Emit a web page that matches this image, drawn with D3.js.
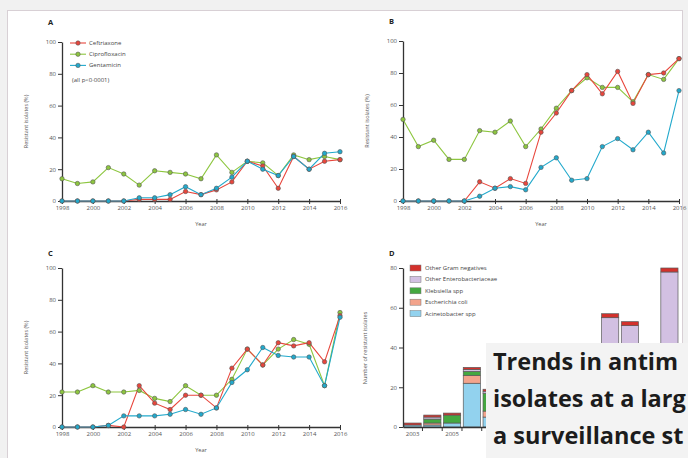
<!DOCTYPE html>
<html><head><meta charset="utf-8">
<script src="https://cdn.jsdelivr.net/npm/d3@7"></script>
<style>
html,body{margin:0;padding:0;background:#f1f1f1;overflow:hidden}
svg{display:block;overflow:hidden}
text{font-family:"Open Sans","DejaVu Sans",sans-serif}
</style></head><body>
<svg id="c" width="688" height="458"></svg>
<script>
// ---------- data ----------
const years = [1998,1999,2000,2001,2002,2003,2004,2005,2006,2007,2008,2009,2010,2011,2012,2013,2014,2015,2016];
const yearTicks = [1998,2000,2002,2004,2006,2008,2010,2012,2014,2016];
const pctTicks = [0,20,40,60,80,100];

// Panel A
const ceftriaxoneA   = [0,0,0,0,0,1,1,1,6,4,7,12,25,22,8,28,20,25,26];
const ciprofloxacinA = [14,11,12,21,17,10,19,18,17,14,29,18,25,24,16,29,26,28,26];
const gentamicinA    = [0,0,0,0,0,2,2,4,9,4,8,15,25,20,16,28,20,30,31];
// Panel B
const ceftriaxoneB   = [0,0,0,0,0,12,8,14,11,43,55,69,79,67,81,61,79,80,89];
const ciprofloxacinB = [51,34,38,26,26,44,43,50,34,45,58,69,77,71,71,62,79,76,89];
const gentamicinB    = [0,0,0,0,0,3,8,9,7,21,27,13,14,34,39,32,43,30,69];
// Panel C
const ceftriaxoneC   = [0,0,0,1,0,26,15,11,20,20,12,37,49,39,53,51,53,41,70];
const ciprofloxacinC = [22,22,26,22,22,23,18,16,26,20,20,30,49,39,49,55,52,26,72];
const gentamicinC    = [0,0,0,1,7,7,7,8,11,8,12,28,36,50,45,44,44,26,69];

const drugNames = ["Ceftriaxone","Ciprofloxacin","Gentamicin"];

// Panel D
const barYears = [2003,2004,2005,2006,2007,2008,2009,2010,2011,2012,2013,2014,2015,2016];
const barYearLabels = [2003,2005];   // later labels lie under the title box
const countTicks = [0,20,40,60,80];
const acinetobacter   = [1,1,2,22,5,4,3,2,2,1,0,0,1,0];
const escherichiaColi = [0,1,0,4,3,2,2,1,1,1,0,0,1,0];
const klebsiella      = [0,2,4,2,9,8,6,5,4,3,1,1,2,0];
const otherEntero     = [0,1,0,1,1,3,5,12,20,30,54,50,30,78];
const otherGramNeg    = [1,1,1,1,1,1,1,1,1,1,2,2,1,2];
const organismNames = ["Other Gram negatives","Other Enterobacteriaceae","Klebsiella spp","Escherichia coli","Acinetobacter spp"];

const titleLines = ["Trends in antim","isolates at a larg","a surveillance st"];

// ---------- styles ----------
const col = {Ceftriaxone:"#e8463c", Ciprofloxacin:"#8dc63f", Gentamicin:"#22a9cc"};
const orgCol = {"Other Gram negatives":"#d3312c","Other Enterobacteriaceae":"#d2c0e2",
  "Klebsiella spp":"#44a840","Escherichia coli":"#f3a48c","Acinetobacter spp":"#92d2ee"};
const axisCol = "#333", tickTxt = "#555", fs = 6;

const svg = d3.select("#c");
// card
svg.append("rect").attr("x",0).attr("y",0).attr("width",688).attr("height",458).attr("fill","#f1f1f1");
svg.append("rect").attr("x",7.5).attr("y",10.5).attr("width",675).attr("height",460)
  .attr("fill","#fff").attr("stroke","#d8d0d5").attr("stroke-width",1);

function styleAxis(g){
  g.select(".domain").attr("stroke",axisCol).attr("stroke-width",1.3);
  g.selectAll(".tick line").attr("stroke",axisCol).attr("stroke-width",1);
  g.selectAll(".tick text").attr("fill",tickTxt).attr("font-size",fs).style("font-family","'Open Sans',sans-serif");
}

function linePanel(p){
  const x = d3.scaleLinear().domain([1998,2016]).range([p.x0,p.x1]);
  const y = d3.scaleLinear().domain([0,100]).range([p.yb,p.yt]);
  const g = svg.append("g");
  const gy = g.append("g").attr("transform",`translate(${p.x0},0)`)
    .call(d3.axisLeft(y).tickValues(pctTicks).tickSize(4).tickPadding(2).tickSizeOuter(0));
  styleAxis(gy);
  const gx = g.append("g").attr("transform",`translate(0,${p.yb})`)
    .call(d3.axisBottom(x).tickValues(yearTicks).tickFormat(d3.format("d")).tickSize(3).tickPadding(2).tickSizeOuter(0));
  styleAxis(gx);
  gx.selectAll(".tick line").attr("y1",-2);
  // labels
  g.append("text").attr("x",p.lx).attr("y",p.ly).text(p.label).attr("font-size",7.5).attr("font-weight",700).attr("fill","#222");
  g.append("text").attr("x",(p.x0+p.x1)/2).attr("y",p.yb+25).attr("text-anchor","middle").attr("font-size",fs-0.5).attr("fill","#555").text("Year");
  g.append("text").attr("transform",`translate(${p.x0-34},${(p.yb+p.yt)/2}) rotate(-90)`)
    .attr("text-anchor","middle").attr("font-size",fs-0.5).attr("fill","#555").text("Resistant isolates (%)");
  const line = d3.line().x((d,i)=>x(years[i])).y(d=>y(d));
  const order = [[ "Ciprofloxacin", p.cip ], [ "Ceftriaxone", p.cef ], [ "Gentamicin", p.gen ]];
  order.forEach(([name,vals])=>{
    g.append("path").datum(vals).attr("d",line).attr("fill","none").attr("stroke",col[name]).attr("stroke-width",1.1);
  });
  order.forEach(([name,vals])=>{
    g.selectAll(null).data(vals).enter().append("circle")
      .attr("cx",(d,i)=>x(years[i])).attr("cy",d=>y(d)).attr("r",2.2)
      .attr("fill",col[name]).attr("stroke","#555").attr("stroke-width",0.6);
  });
  return g;
}

linePanel({x0:62,x1:340,yb:201,yt:42,label:"A",lx:48,ly:25,cef:ceftriaxoneA,cip:ciprofloxacinA,gen:gentamicinA});
linePanel({x0:403,x1:679,yb:201,yt:41,label:"B",lx:389,ly:24,cef:ceftriaxoneB,cip:ciprofloxacinB,gen:gentamicinB});
linePanel({x0:62,x1:340,yb:427,yt:268,label:"C",lx:48,ly:256,cef:ceftriaxoneC,cip:ciprofloxacinC,gen:gentamicinC});

// legend A
const leg = svg.append("g");
drugNames.forEach((n,i)=>{
  const yy = 43 + i*11.2;
  leg.append("line").attr("x1",70).attr("x2",86).attr("y1",yy).attr("y2",yy).attr("stroke",col[n]).attr("stroke-width",1.1);
  leg.append("circle").attr("cx",78).attr("cy",yy).attr("r",2.2).attr("fill",col[n]).attr("stroke","#555").attr("stroke-width",0.6);
  leg.append("text").attr("x",89).attr("y",yy+2).attr("font-size",fs).attr("fill","#444").text(n);
});
leg.append("text").attr("x",72).attr("y",82).attr("font-size",fs).attr("fill","#444").text("(all p<0·0001)");

// ---------- Panel D ----------
const gD = svg.append("g");
const xD = d3.scaleBand().domain(barYears).range([403,679]).paddingInner(0.13).paddingOuter(0.05);
const yD = d3.scaleLinear().domain([0,80]).range([427,268]);
const table = barYears.map((yr,i)=>({year:yr,
  "Acinetobacter spp":acinetobacter[i],"Escherichia coli":escherichiaColi[i],"Klebsiella spp":klebsiella[i],
  "Other Enterobacteriaceae":otherEntero[i],"Other Gram negatives":otherGramNeg[i]}));
const stackKeys = ["Acinetobacter spp","Escherichia coli","Klebsiella spp","Other Enterobacteriaceae","Other Gram negatives"];
const stacked = d3.stack().keys(stackKeys)(table);
stacked.forEach(layer=>{
  gD.selectAll(null).data(layer).enter().append("rect")
    .attr("x",d=>xD(d.data.year)).attr("width",xD.bandwidth())
    .attr("y",d=>yD(d[1])).attr("height",d=>Math.max(0,yD(d[0])-yD(d[1])))
    .attr("fill",orgCol[layer.key]).attr("stroke","#5a5a5a").attr("stroke-width",0.7);
});
const gyD = gD.append("g").attr("transform","translate(403,0)")
  .call(d3.axisLeft(yD).tickValues(countTicks).tickSize(4).tickPadding(2).tickSizeOuter(0));
styleAxis(gyD);
const gxD = gD.append("g").attr("transform","translate(0,427)")
  .call(d3.axisBottom(xD).tickValues(barYearLabels).tickSize(0).tickPadding(5).tickSizeOuter(0));
styleAxis(gxD);
gD.selectAll(null).data(barYears.slice(1)).enter().append("line")
  .attr("x1",d=>xD(d)-xD.step()*xD.paddingInner()/2).attr("x2",d=>xD(d)-xD.step()*xD.paddingInner()/2)
  .attr("y1",427).attr("y2",431).attr("stroke",axisCol).attr("stroke-width",1);
gD.append("text").attr("x",389).attr("y",256).text("D").attr("font-size",7.5).attr("font-weight",700).attr("fill","#222");
gD.append("text").attr("transform","translate(367,348) rotate(-90)").attr("text-anchor","middle")
  .attr("font-size",fs-0.5).attr("fill","#555").text("Number of resistant isolates");
organismNames.forEach((n,i)=>{
  const yy = 268 + i*11.4;
  gD.append("rect").attr("x",410).attr("y",yy-3).attr("width",11).attr("height",6)
    .attr("fill",orgCol[n]).attr("stroke","#777").attr("stroke-width",0.5);
  gD.append("text").attr("x",425).attr("y",yy+2).attr("font-size",fs).attr("fill","#444").text(n);
});

// ---------- title overlay ----------
svg.append("rect").attr("x",486).attr("y",343).attr("width",210).attr("height",120).attr("fill","#f3f3f3");
const tt = svg.append("text").attr("font-size",23.5).attr("font-weight",700).attr("fill","#1c1c1c");
titleLines.forEach((t,i)=>{
  tt.append("tspan").attr("x",493).attr("y",370+i*37).text(t);
});
</script>
</body></html>
